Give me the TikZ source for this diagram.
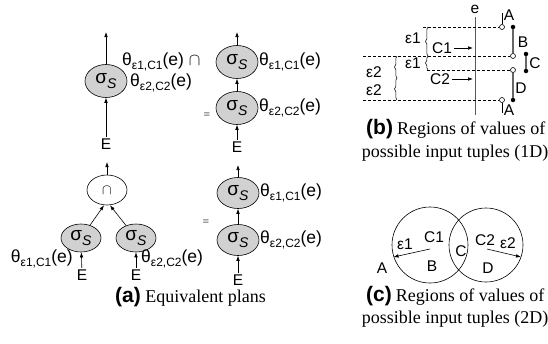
\documentclass[tikz,border=0pt]{standalone}
\usepackage{fontspec}
\setmainfont{Liberation Sans}
\newfontfamily\capserif{Liberation Serif}
\usetikzlibrary{shapes.geometric,arrows.meta,decorations.pathreplacing}
\newcommand\sig{σ\raisebox{-0.45ex}{\fontsize{14}{14}\selectfont\itshape S}}
\newcommand\thl[1]{θ\raisebox{-0.4ex}{\fontsize{12}{12}\selectfont #1}(e)}
\begin{document}
\begin{tikzpicture}[x=1pt,y=-1pt,
  sel/.style={ellipse, draw, line width=0.6pt, fill=black!18, minimum width=42pt, minimum height=33pt, inner sep=0pt, font=\fontsize{19}{19}\selectfont},
  ar/.style={-{Latex[length=5pt,width=3.6pt]}, line width=0.6pt},
  lab/.style={font=\fontsize{17.5}{17.5}\selectfont, inner sep=0pt},
  elab/.style={font=\fontsize{15.5}{15.5}\selectfont, inner sep=1.5pt},
  sm/.style={font=\fontsize{15.5}{15.5}\selectfont, inner sep=0pt},
  eqv/.style={font=\fontsize{8}{8}\selectfont, inner sep=0pt},
  dsh/.style={dash pattern=on 3pt off 2pt, line width=0.5pt},
  ocirc/.style={circle, draw, fill=white, line width=0.6pt, minimum size=5pt, inner sep=0pt},
  fdot/.style={circle, fill=black, minimum size=4.5pt, inner sep=0pt},
  seg/.style={line width=1.6pt, black!60},
  brc/.style={decorate, decoration={brace, amplitude=2.5pt}, line width=0.5pt},
  capa/.style={font=\fontsize{21}{21}\selectfont\bfseries, inner sep=0pt},
  capt/.style={font=\fontsize{18}{18}\selectfont\capserif, inner sep=0pt}]
\useasboundingbox (0,0) rectangle (548,343);

% ---------- (a) top-left plan
\node[sel] (sA) at (106,81) {\sig};
\node[elab] (eA) at (106,144) {E};
\coordinate (tA) at (106,32);
\draw[ar] (eA) -- (sA);
\draw[ar] (sA) -- (tA);
\node[lab, anchor=west] (lA1) at (122,62) {\thl{ε1,C1} $\cap$};
\node[lab, anchor=west] (lA2) at (130,83) {\thl{ε2,C2}};

% ---------- (a) bottom-left plan
\node[ellipse, draw, line width=0.6pt, minimum width=40pt, minimum height=30pt, inner sep=0pt, font=\fontsize{15}{15}\selectfont] (cap) at (107,190) {$\cap$};
\coordinate (tB) at (107,162);
\draw[ar] (cap) -- (tB);
\node[sel, minimum width=40pt, minimum height=28pt] (sL) at (81,238) {\sig};
\node[sel, minimum width=40pt, minimum height=28pt] (sR) at (136,238) {\sig};
\draw[ar] (sL) -- ([xshift=-3pt]cap.south);
\draw[ar] (sR) -- ([xshift=3pt]cap.south);
\node[elab] (eL) at (82,275) {E};
\node[elab] (eR) at (136,275) {E};
\draw[ar] (eL) -- (sL);
\draw[ar] (eR) -- (sR);
\node[lab, anchor=east] (lL) at (73,259) {\thl{ε1,C1}};
\node[lab, anchor=west] (lR) at (141,259) {\thl{ε2,C2}};

% ---------- (a) right-top plan
\node[sel] (s1) at (237,62) {\sig};
\node[sel] (s2) at (237,108) {\sig};
\node[elab] (e1) at (237,147) {E};
\coordinate (t1) at (237,32);
\draw[ar] (e1) -- (s2);
\draw[ar] (s2) -- (s1);
\draw[ar] (s1) -- (t1);
\node[lab, anchor=west] (l1) at (259,62) {\thl{ε1,C1}};
\node[lab, anchor=west] (l2) at (259,108) {\thl{ε2,C2}};
\node[eqv] (q1) at (207,115) {$\equiv$};

% ---------- (a) right-bottom plan
\node[sel, minimum height=31pt] (s3) at (238,193) {\sig};
\node[sel, minimum height=31pt] (s4) at (238,240) {\sig};
\node[elab] (e2) at (238,280) {E};
\coordinate (t2) at (238,165);
\draw[ar] (e2) -- (s4);
\draw[ar] (s4) -- (s3);
\draw[ar] (s3) -- (t2);
\node[lab, anchor=west] (l3) at (260,193) {\thl{ε1,C1}};
\node[lab, anchor=west] (l4) at (260,240) {\thl{ε2,C2}};
\node[eqv] (q2) at (206,222) {$\equiv$};

% caption (a)
\node[capa, anchor=west] (ca) at (115,297) {(a)};
\node[capt, anchor=base west] (ca2) at ([xshift=4pt]ca.base east) {Equivalent plans};

% ---------- (b) 1D
\coordinate (eTop) at (475,17);
\coordinate (eBot) at (475,115);
\draw[line width=1pt, black!65] (eTop) -- (eBot);
\node[sm] (eLab) at (475,9) {e};

\node[ocirc] (o1) at (502,27) {};
\node[ocirc] (o2) at (513,56) {};
\node[ocirc] (o3) at (513,70) {};
\node[ocirc] (o4) at (502,100) {};
\node[fdot] (f1) at (513,27) {};
\node[fdot] (f4) at (513,100) {};
\node[fdot] (fc1) at (526,54) {};
\node[fdot] (fc2) at (526,71) {};

\coordinate (d1) at (423,27);
\coordinate (d2) at (363,56);
\coordinate (d3) at (427,70);
\coordinate (d4) at (363,100);
\draw[dsh] (d1) -- (o1);
\draw[dsh] (d2) -- (o2);
\draw[dsh] (d3) -- (o3);
\draw[dsh] (d4) -- (o4);

\draw[seg] (f1) -- (o2);
\draw[seg] (fc1) -- (fc2);
\draw[seg] (o3) -- (f4);

\coordinate (a1) at (502,13);
\coordinate (a2) at (502,113);
\draw[line width=0.6pt] (o1) -- (a1);
\draw[line width=0.6pt] (o4) -- (a2);
\node[sm] (A1) at (509,15) {A};
\node[sm] (A2) at (509,110) {A};
\node[sm] (B1) at (523,42) {B};
\node[sm] (C1d) at (535,63) {C};
\node[sm] (D1) at (521,88) {D};

\draw[brc] (428,56) -- (428,27);
\draw[brc] (428,70) -- (428,56);
\draw[brc] (397,78) -- (397,56);
\draw[brc] (397,100) -- (397,78);
\node[sm] (ep1a) at (413,38) {ε1};
\node[sm] (ep1b) at (413,63) {ε1};
\node[sm] (ep2a) at (374,72) {ε2};
\node[sm] (ep2b) at (374,90) {ε2};

\node[sm] (c1) at (442,48) {C1};
\node[sm] (c2) at (440,79) {C2};
\coordinate (c1e) at (473,48);
\coordinate (c2e) at (473,79);
\draw[ar] ([xshift=2pt]c1.east) -- (c1e);
\draw[ar] ([xshift=2pt]c2.east) -- (c2e);

% caption (b)
\node[anchor=base west, inner sep=0pt] (cb) at (366,134) {{\fontsize{21}{21}\selectfont\bfseries (b)}\hspace{4pt}{\capserif\fontsize{18}{18}\selectfont Regions of values of}};
\node[capt, anchor=base] (cb2) at (455,157) {possible input tuples (1D)};

% ---------- (c) 2D
\node[circle, draw, line width=0.6pt, minimum size=76pt, inner sep=0pt] (cL) at (430,245) {};
\node[circle, draw, line width=0.6pt, minimum size=74pt, inner sep=0pt] (cR) at (486,245) {};
\coordinate (p1) at (430,249);
\coordinate (p1e) at (393.5,257);
\coordinate (p2) at (487,249);
\coordinate (p2e) at (521,257);
\draw[ar] (p1) -- (p1e);
\draw[ar] (p2) -- (p2e);
\node[sm] (tc1) at (434,237) {C1};
\node[sm] (te1) at (405,244) {ε1};
\node[sm] (tc2) at (485,240) {C2};
\node[sm] (te2) at (508,243) {ε2};
\node[sm] (tC) at (461,251) {C};
\node[sm] (tB) at (432,266) {B};
\node[sm] (tD) at (488,268) {D};
\node[sm] (tA2) at (382,268) {A};

% caption (c)
\node[anchor=base west, inner sep=0pt] (cc) at (366,301) {{\fontsize{21}{21}\selectfont\bfseries (c)}\hspace{4pt}{\capserif\fontsize{18}{18}\selectfont Regions of values of}};
\node[capt, anchor=base] (cc2) at (455,323) {possible input tuples (2D)};
\end{tikzpicture}
\end{document}
